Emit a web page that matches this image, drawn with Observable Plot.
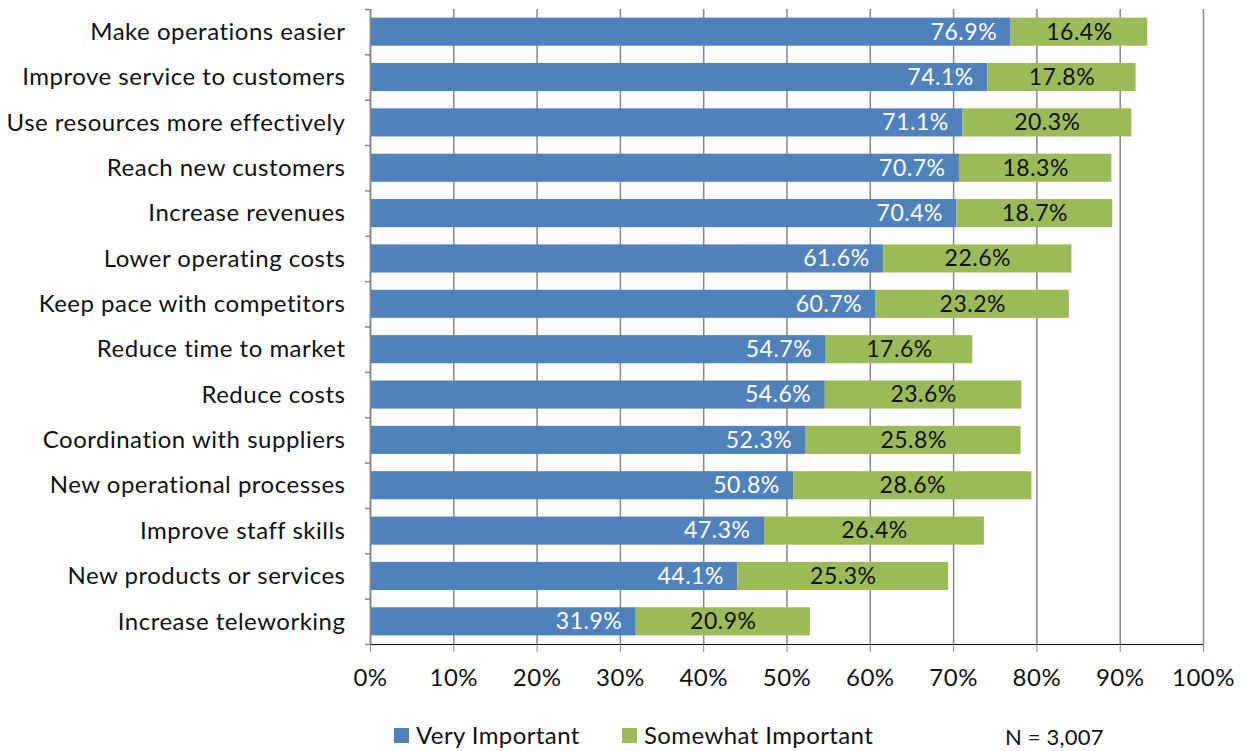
<!DOCTYPE html>
<html>
<head>
<meta charset="utf-8">
<script src="https://cdn.jsdelivr.net/npm/d3@7"></script>
<script src="https://cdn.jsdelivr.net/npm/@observablehq/plot@0.6"></script>
<style>
  body { margin: 0; background: #fff; font-family: Lato, "Open Sans", sans-serif; }
  #wrap { width: 1242px; position: relative; }
  #legend { position: relative; height: 46px; font-size: 24px; letter-spacing: 0.4px; color: #111; }
  .li { position: absolute; top: 15px; display: flex; align-items: center; line-height: 30px; }
  .sw { width: 15px; height: 15px; margin-right: 7px; }
  #n { position: absolute; left: 1005px; top: 17px; font-size: 22px; line-height: 30px; letter-spacing: 0.2px; }
  svg [aria-label="x-axis tick"] path, svg [aria-label="x-axis tick"] { stroke: #868686; }
</style>
</head>
<body>
<div id="wrap"></div>
<script>
const categories = [
  "Make operations easier",
  "Improve service to customers",
  "Use resources more effectively",
  "Reach new customers",
  "Increase revenues",
  "Lower operating costs",
  "Keep pace with competitors",
  "Reduce time to market",
  "Reduce costs",
  "Coordination with suppliers",
  "New operational processes",
  "Improve staff skills",
  "New products or services",
  "Increase teleworking"
];
const veryImportant = [76.9, 74.1, 71.1, 70.7, 70.4, 61.6, 60.7, 54.7, 54.6, 52.3, 50.8, 47.3, 44.1, 31.9];
const somewhatImportant = [16.4, 17.8, 20.3, 18.3, 18.7, 22.6, 23.2, 17.6, 23.6, 25.8, 28.6, 26.4, 25.3, 20.9];
const seriesNames = ["Very Important", "Somewhat Important"];
const seriesColors = ["#4F81BD", "#9BBB59"];
const xTicks = [0, 10, 20, 30, 40, 50, 60, 70, 80, 90, 100];

const rows = [];
categories.forEach((c, i) => {
  rows.push({cat: c, series: seriesNames[0], v: veryImportant[i], x1: 0, x2: veryImportant[i]});
  rows.push({cat: c, series: seriesNames[1], v: somewhatImportant[i], x1: veryImportant[i], x2: veryImportant[i] + somewhatImportant[i]});
});
const blue = rows.filter(d => d.series === seriesNames[0]);
const green = rows.filter(d => d.series === seriesNames[1]);

const step = (644 - 9) / categories.length;

const chart = Plot.plot({
  width: 1242,
  height: 705,
  marginLeft: 370,
  marginRight: 39,
  marginTop: 9,
  marginBottom: 61,
  style: {fontFamily: "Lato, 'Open Sans', sans-serif", fontSize: "24px", letterSpacing: "0.5px", color: "#111", background: "#fff"},
  x: {domain: [0, 100], ticks: xTicks, tickFormat: d => d + "%", tickSize: 8, tickPadding: 16, line: true, label: null},
  y: {domain: categories, paddingInner: 0.38, paddingOuter: 0.19, round: false, tickSize: 0, tickPadding: 25, label: null},
  color: {domain: seriesNames, range: seriesColors},
  marks: [
    Plot.ruleX(xTicks, {stroke: "#868686", strokeWidth: 1.5}),
    Plot.barX(rows, {x1: "x1", x2: "x2", y: "cat", fill: "series"}),
    Plot.ruleY(categories, {y: d => d, x1: 0, x2: 0, insetLeft: -5, stroke: "#868686", strokeWidth: 1.5, dy: step / 2}),
    Plot.ruleY(categories.slice(0, 1), {y: d => d, x1: 0, x2: 0, insetLeft: -5, stroke: "#868686", strokeWidth: 1.5, dy: -step / 2}),
    Plot.ruleX([0], {stroke: "#868686", strokeWidth: 1.5}),
    Plot.text(blue, {x: "x2", y: "cat", text: d => d.v.toFixed(1) + "%", fill: "white", textAnchor: "end", dx: -14, fontSize: 23}),
    Plot.text(green, {x: d => (d.x1 + d.x2) / 2, y: "cat", text: d => d.v.toFixed(1) + "%", fill: "#111", fontSize: 23})
  ]
});
document.getElementById("wrap").appendChild(chart);

const legend = document.createElement("div");
legend.id = "legend";
const positions = [394, 622];
seriesNames.forEach((s, i) => {
  const it = document.createElement("div");
  it.className = "li";
  it.style.left = positions[i] + "px";
  const sw = document.createElement("div");
  sw.className = "sw";
  sw.style.background = seriesColors[i];
  const t = document.createElement("span");
  t.textContent = s;
  it.appendChild(sw); it.appendChild(t);
  legend.appendChild(it);
});
const n = document.createElement("div");
n.id = "n";
n.textContent = "N = 3,007";
legend.appendChild(n);
document.getElementById("wrap").appendChild(legend);
</script>
</body>
</html>
